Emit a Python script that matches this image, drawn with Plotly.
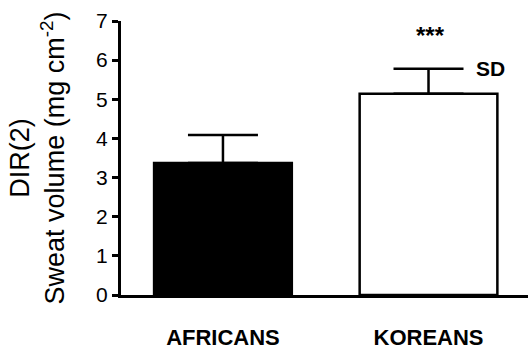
import plotly.graph_objects as go

categories = ["AFRICANS", "KOREANS"]
means = [3.37, 5.14]
sd = [0.72, 0.64]
bar_colors = ["black", "white"]
y_ticks = [0, 1, 2, 3, 4, 5, 6, 7]

FONT = "Liberation Sans, Arial, sans-serif"

fig = go.Figure()
fig.add_trace(go.Bar(
    x=[0, 1], y=means,
    width=0.67,
    marker=dict(color=bar_colors, line=dict(color="black", width=2.5)),
    error_y=dict(type="data", array=sd, symmetric=False, arrayminus=[0, 0],
                 color="black", thickness=2.5, width=35),
    showlegend=False,
))

fig.add_annotation(x=1.01, y=6.62, text="<b>***</b>", showarrow=False,
                   font=dict(family=FONT, size=24, color="black"))
fig.add_annotation(x=1.30, y=means[1] + sd[1], text="<b>SD</b>", showarrow=False,
                   xanchor="center",
                   font=dict(family=FONT, size=21, color="black"))

fig.update_layout(
    width=528, height=347,
    margin=dict(l=121, r=0, t=21, b=52, autoexpand=False),
    paper_bgcolor="white", plot_bgcolor="white",
    font=dict(family=FONT, color="black"),
    bargap=0.3,
)
fig.update_xaxes(
    range=[-0.496, 1.484], automargin=False,
    tickvals=[0, 1], ticktext=["<b>" + c + "</b>" for c in categories],
    tickfont=dict(family=FONT, size=22, color="black"), ticks="", ticklabelstandoff=21,
    showline=True, linecolor="black", linewidth=3, showgrid=False, zeroline=False,
)
fig.update_yaxes(
    range=[0, 7], automargin=False,
    tickvals=y_ticks,
    tickfont=dict(family=FONT, size=21, color="black"), ticks="outside", ticklen=6,
    tickwidth=2.5, tickcolor="black",
    showline=True, linecolor="black", linewidth=3, showgrid=False, zeroline=False,
    title=dict(text="DIR(2)<br>Sweat volume (mg cm<sup>-2</sup>)",
               font=dict(family=FONT, size=27, color="black"), standoff=24),
)

fig.write_html("out.html",
               config={"displayModeBar": False},
               post_script="document.body.style.margin='0';document.body.style.padding='0';")
